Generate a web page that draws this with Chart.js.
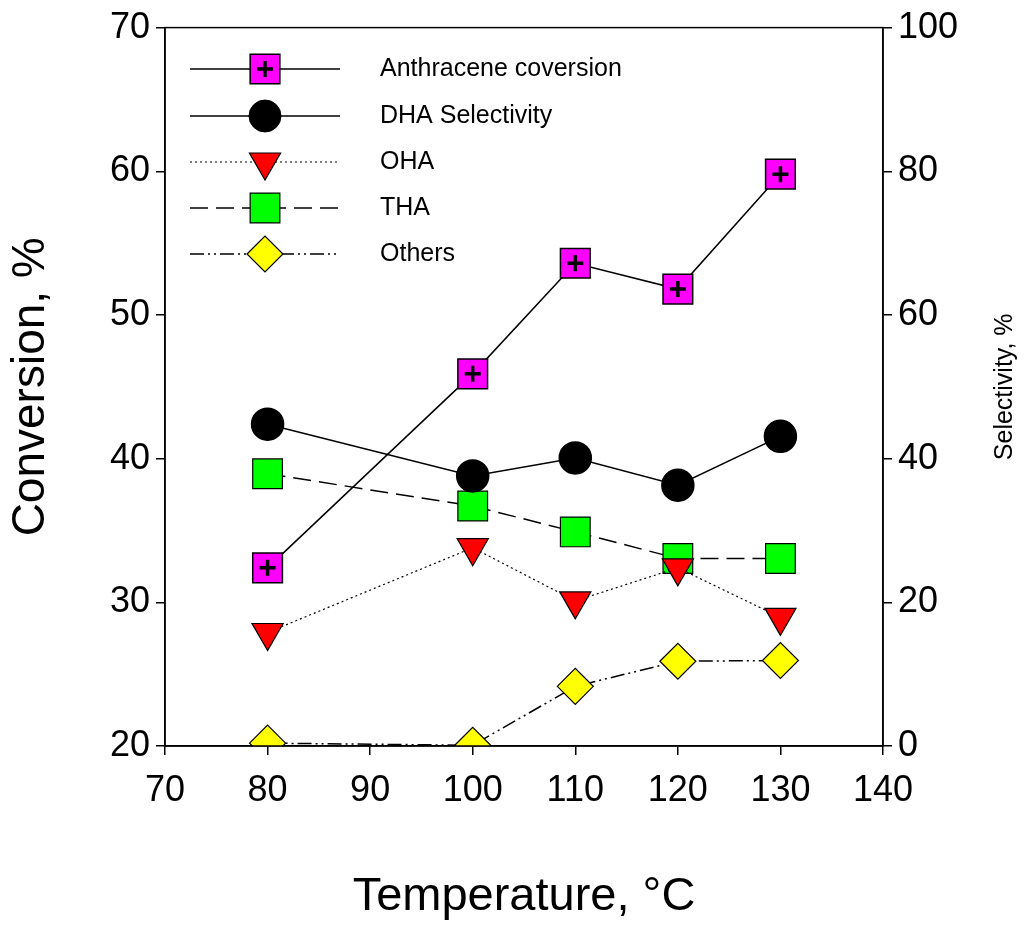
<!DOCTYPE html>
<html><head><meta charset="utf-8">
<script src="https://cdn.jsdelivr.net/npm/chart.js@4"></script>
<style>html,body{margin:0;padding:0;background:#fff}#w{width:1024px;height:929px}</style>
</head><body><div id="w"><canvas id="c"></canvas></div>
<script>
const temps = [80, 100, 110, 120, 130];
const anthraceneConversion = [32.4, 45.9, 53.6, 51.8, 59.8];
const dhaSelectivity = [44.8, 37.6, 40.1, 36.3, 43.1];
const ohaSelectivity = [15.8, 27.6, 20.2, 24.8, 17.9];
const thaSelectivity = [37.9, 33.4, 29.8, 26.1, 26.1];
const othersSelectivity = [0.4, 0.1, 8.3, 11.8, 11.9];
const xTicks = [70, 80, 90, 100, 110, 120, 130, 140];
const legendLabels = ['Anthracene coversion', 'DHA Selectivity', 'OHA', 'THA', 'Others'];

const pts = a => a.map((v, i) => ({x: temps[i], y: v}));
const F = 'Liberation Sans, Arial, sans-serif';
const sets = [
  {label: legendLabels[0], data: pts(anthraceneConversion), yAxisID: 'y', borderColor: '#000', borderWidth: 1.5, pointStyle: 'rect', pointRadius: 21, pointBackgroundColor: '#ff00ff', pointBorderColor: '#000', pointBorderWidth: 1.5},
  {label: legendLabels[1], data: pts(dhaSelectivity), yAxisID: 'y2', borderColor: '#000', borderWidth: 1.5, pointStyle: 'circle', pointRadius: 16, pointBackgroundColor: '#000', pointBorderColor: '#000'},
  {label: legendLabels[2], data: pts(ohaSelectivity), yAxisID: 'y2', borderColor: '#000', borderWidth: 1.2, borderDash: [2, 3], pointStyle: 'triangle', rotation: 180, pointRadius: 18, pointBackgroundColor: '#ff0000', pointBorderColor: '#000', pointBorderWidth: 1.2},
  {label: legendLabels[3], data: pts(thaSelectivity), yAxisID: 'y2', borderColor: '#000', borderWidth: 1.5, borderDash: [18, 8], pointStyle: 'rect', pointRadius: 21, pointBackgroundColor: '#00ff00', pointBorderColor: '#000', pointBorderWidth: 1.2},
  {label: legendLabels[4], data: pts(othersSelectivity), yAxisID: 'y2', borderColor: '#000', borderWidth: 1.5, borderDash: [14, 4, 2, 4, 2, 4], pointStyle: 'rectRot', pointRadius: 18, pointBackgroundColor: '#ffff00', pointBorderColor: '#000', pointBorderWidth: 1.2},
  {label: '', data: pts(anthraceneConversion), yAxisID: 'y', showLine: false, pointStyle: 'cross', pointRadius: 8, pointBorderColor: '#000', pointBorderWidth: 3.5}
];
sets[0].order = 1; sets[5].order = 0;
[1,2,3,4].forEach(i => sets[i].order = 2);

const framePlugin = {
  id: 'frame',
  afterDraw(chart) {
    const {ctx, chartArea: a} = chart;
    ctx.save();
    ctx.strokeStyle = '#000'; ctx.lineWidth = 1.5;
    ctx.strokeRect(a.left, a.top, a.right - a.left, a.bottom - a.top);
    const rows = [69, 116, 162, 208, 254];
    rows.forEach((y, i) => {
      const d = sets[i];
      ctx.save();
      ctx.strokeStyle = '#000'; ctx.lineWidth = d.borderWidth;
      ctx.setLineDash(d.borderDash || []);
      ctx.beginPath(); ctx.moveTo(190, y); ctx.lineTo(340, y); ctx.stroke();
      ctx.setLineDash([]);
      ctx.fillStyle = d.pointBackgroundColor; ctx.strokeStyle = '#000'; ctx.lineWidth = d.pointBorderWidth || 1;
      Chart.helpers.drawPoint(ctx, {pointStyle: d.pointStyle, rotation: d.rotation || 0, radius: d.pointRadius, borderWidth: d.pointBorderWidth || 1}, 265, y);
      if (i === 0) {
        ctx.lineWidth = 3.5;
        Chart.helpers.drawPoint(ctx, {pointStyle: 'cross', rotation: 0, radius: 8, borderWidth: 3.5}, 265, y);
      }
      ctx.fillStyle = '#000'; ctx.font = '25px ' + F; ctx.textBaseline = 'middle';
      ctx.fillText(legendLabels[i], 380, y);
      ctx.restore();
    });
    // right axis title, reading bottom to top
    ctx.save();
    ctx.translate(1005, (a.top + a.bottom) / 2);
    ctx.rotate(-Math.PI / 2);
    ctx.fillStyle = '#000'; ctx.font = '25px ' + F; ctx.textAlign = 'center'; ctx.textBaseline = 'middle';
    ctx.fillText('Selectivity, %', 0, 0);
    ctx.restore();
    ctx.restore();
  }
};

new Chart(document.getElementById('c'), {
  type: 'line',
  data: {datasets: sets},
  options: {
    responsive: true, maintainAspectRatio: false, animation: false,
    layout: {padding: {top: 25, right: 0, left: 0, bottom: 0}},
    plugins: {legend: {display: false}, tooltip: {enabled: false}},
    scales: {
      x: {type: 'linear', min: 70, max: 140,
        afterBuildTicks: s => { s.ticks = xTicks.map(v => ({value: v})); },
        afterFit: s => { s.height = 183; },
        grid: {drawOnChartArea: false, tickLength: 9, color: '#000', lineWidth: 1.5},
        border: {color: '#000', width: 1.5},
        ticks: {color: '#000', font: {family: F, size: 36}, padding: 14},
        title: {display: true, text: 'Temperature, °C', color: '#000', font: {family: F, size: 47}, padding: {top: 30}}
      },
      y: {position: 'left', min: 20, max: 70,
        afterFit: s => { s.width = 165; },
        grid: {drawOnChartArea: false, tickLength: 9, color: '#000', lineWidth: 1.5},
        border: {color: '#000', width: 1.5},
        ticks: {stepSize: 10, color: '#000', font: {family: F, size: 36}, padding: 6},
        title: {display: true, text: 'Conversion, %', color: '#000', font: {family: F, size: 46}, padding: {bottom: 6}}
      },
      y2: {position: 'right', min: 0, max: 100,
        afterFit: s => { s.width = 141; },
        grid: {drawOnChartArea: false, tickLength: 9, color: '#000', lineWidth: 1.5},
        border: {color: '#000', width: 1.5},
        ticks: {stepSize: 20, color: '#000', font: {family: F, size: 36}, padding: 6},
        title: {display: false}
      }
    }
  },
  plugins: [framePlugin]
});
</script></body></html>
